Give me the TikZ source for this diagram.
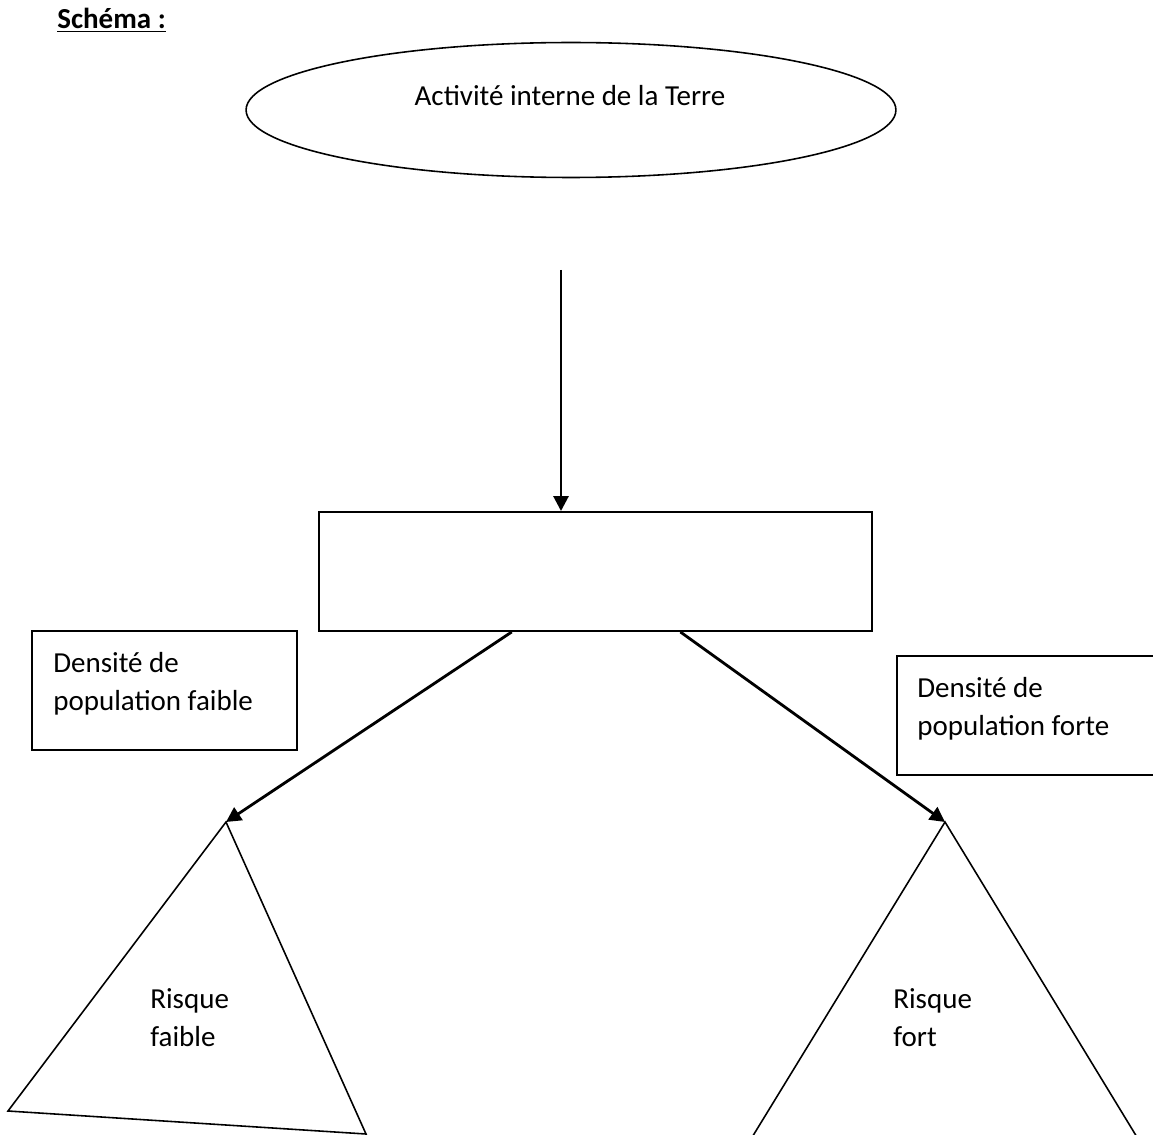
\documentclass[tikz,border=0pt]{standalone}
\usepackage{fontspec}
\setmainfont{Carlito}
\usetikzlibrary{arrows.meta,shapes.geometric,calc}
\tikzset{cadre/.style={draw,line width=1.1pt,minimum height=2.38cm,inner sep=0pt},
 bulle/.style={draw,ellipse,line width=0.9pt,minimum width=13cm,minimum height=2.7cm,inner sep=0pt},
 texte/.style={anchor=base west,align=left,inner sep=0pt,font=\fontsize{16.5pt}{21.6pt}\selectfont},
 fleche/.style={-{Triangle[length=3mm,width=3mm]},line width=1.6pt},
 trait/.style={line width=0.9pt,line join=miter}}
\begin{document}
\begin{tikzpicture}[x=0.02cm,y=-0.02cm]
\useasboundingbox (0,0) rectangle (1153,1135);
\clip (0,0) rectangle (1153,1135);

\node[texte,font=\fontsize{16.5pt}{21.6pt}\selectfont\bfseries] (titre) at (57,29) {\underline{Schéma :}};

\node[bulle] (activite) at (571,110) {};
\node[texte,anchor=base] (activitetxt) at (570,106) {Activité interne de la Terre};

\node[cadre,minimum width=11.06cm] (milieu) at (595.5,571.5) {};
\node[cadre,minimum width=5.3cm] (faible) at (164.5,690.5) {};
\node[cadre,minimum width=6.06cm] (forte) at (1048.5,715.5) {};
% le point de base est celui de la derniere ligne
\node[texte] (faibletxt) at (53,710) {Densité de\\population faible};
\node[texte] (fortetxt) at (917,735) {Densité de\\population forte};

% triangles de risque
\coordinate (sommetG) at (226,822);
\coordinate (sommetD) at (945,822);
\draw[trait] (sommetG) -- (8,1111) -- (366,1134) -- cycle;
\draw[trait] (sommetD) -- (732,1170) -- (1157,1170) -- cycle;
\node[texte] (risqueG) at (150,1046) {Risque\\faible};
\node[texte] (risqueD) at (893,1046) {Risque\\fort};

\coordinate (depart) at (561,270);
\draw[fleche] (depart) -- (depart |- milieu.north);
\draw[fleche] ($(milieu.south west)!0.349!(milieu.south east)$) -- (sommetG);
\draw[fleche] ($(milieu.south west)!0.653!(milieu.south east)$) -- (sommetD);
\end{tikzpicture}
\end{document}
